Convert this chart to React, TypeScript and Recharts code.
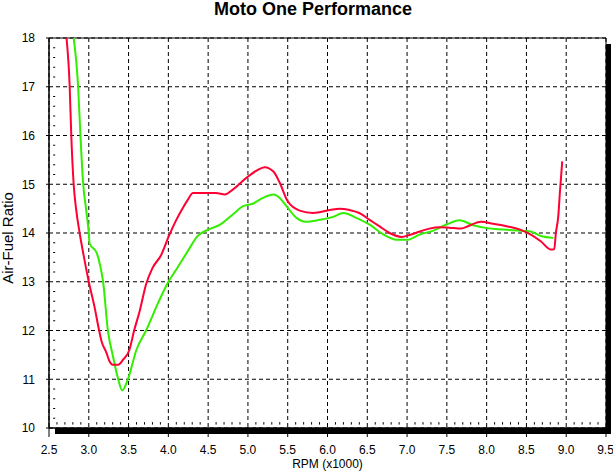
import React from "react";
import { LineChart, Line, XAxis, YAxis, CartesianGrid, ReferenceArea, ReferenceLine } from "recharts";

const xTicks = [2.5, 3.0, 3.5, 4.0, 4.5, 5.0, 5.5, 6.0, 6.5, 7.0, 7.5, 8.0, 8.5, 9.0, 9.5];
const yTicks = [10, 11, 12, 13, 14, 15, 16, 17, 18];

const redRpm = [2.72, 2.76, 2.78, 2.81, 2.84, 2.885, 2.94, 3.0, 3.07, 3.13, 3.16, 3.22, 3.26, 3.30, 3.37, 3.43, 3.51, 3.57, 3.64, 3.72, 3.80, 3.91, 4.01, 4.10, 4.18, 4.24, 4.31, 4.45, 4.60, 4.71, 4.81, 4.98, 5.11, 5.21, 5.32, 5.40, 5.50, 5.65, 5.82, 6.03, 6.15, 6.28, 6.40, 6.53, 6.65, 6.78, 6.93, 7.03, 7.16, 7.28, 7.41, 7.53, 7.68, 7.78, 7.93, 8.08, 8.25, 8.42, 8.55, 8.68, 8.81, 8.85, 8.87, 8.90, 8.92, 8.95];
const redAfr = [18.0, 17.0, 16.0, 15.0, 14.5, 14.0, 13.5, 13.0, 12.5, 12.0, 11.78, 11.55, 11.37, 11.30, 11.30, 11.40, 11.6, 12.0, 12.4, 12.95, 13.28, 13.55, 13.95, 14.27, 14.51, 14.67, 14.82, 14.82, 14.82, 14.79, 14.89, 15.13, 15.28, 15.35, 15.26, 15.03, 14.65, 14.46, 14.41, 14.47, 14.50, 14.47, 14.41, 14.27, 14.14, 14.0, 13.92, 13.96, 14.03, 14.09, 14.12, 14.11, 14.09, 14.15, 14.23, 14.19, 14.14, 14.07, 13.97, 13.83, 13.66, 13.67, 14.0, 14.34, 14.82, 15.47];

const greenRpm = [2.81, 2.866, 2.895, 2.93, 2.965, 3.0, 3.01, 3.10, 3.14, 3.18, 3.24, 3.30, 3.37, 3.42, 3.49, 3.60, 3.72, 3.87, 4.0, 4.10, 4.23, 4.37, 4.50, 4.65, 4.81, 4.94, 5.06, 5.19, 5.32, 5.40, 5.48, 5.61, 5.73, 5.90, 6.07, 6.20, 6.36, 6.53, 6.70, 6.87, 7.0, 7.16, 7.33, 7.49, 7.66, 7.83, 8.0, 8.21, 8.38, 8.55, 8.68, 8.84];
const greenAfr = [18.0, 17.0, 16.0, 15.0, 14.5, 14.0, 13.79, 13.59, 13.35, 13.0, 12.0, 11.5, 11.0, 10.77, 10.99, 11.61, 12.0, 12.56, 13.0, 13.25, 13.59, 13.94, 14.07, 14.17, 14.38, 14.55, 14.60, 14.72, 14.79, 14.72, 14.56, 14.31, 14.23, 14.27, 14.33, 14.41, 14.31, 14.17, 13.97, 13.86, 13.86, 13.97, 14.05, 14.17, 14.26, 14.16, 14.10, 14.07, 14.05, 14.03, 13.94, 13.90];

const redData = redRpm.map((x, i) => ({ x, afr: redAfr[i] }));
const greenData = greenRpm.map((x, i) => ({ x, afr: greenAfr[i] }));

const minorX: number[] = [];
for (let i = 26; i < 95; i++) if (i % 5 !== 0) minorX.push(i / 10);
const minorY: number[] = [];
for (let i = 51; i < 90; i++) if (i % 5 !== 0) minorY.push(i / 5);

const font = "'Liberation Sans', Arial, sans-serif";

export default function App() {
  return (
    <div style={{ position: "absolute", left: 0, top: 0, width: 613, height: 473, background: "#fff", fontFamily: font }}>
      <div style={{ position: "absolute", left: 0, top: 0, width: 626, textAlign: "center", fontWeight: "bold", fontSize: 18, lineHeight: "18px", color: "#000" }}>
        Moto One Performance
      </div>
      <div style={{ position: "absolute", left: 49, top: 458, width: 557, textAlign: "center", fontSize: 12, lineHeight: "13px", color: "#000" }}>
        RPM (x1000)
      </div>
      <div style={{ position: "absolute", left: 7, top: 238, width: 0, height: 0 }}>
        <div style={{ position: "absolute", transform: "translate(-50%,-50%) rotate(-90deg)", whiteSpace: "nowrap", fontSize: 15, color: "#000" }}>
          Air-Fuel Ratio
        </div>
      </div>
      <LineChart width={613} height={473} margin={{ top: 38, right: 7, left: 0, bottom: 0 }} style={{ position: "absolute", left: 0, top: 0 }}>
        <CartesianGrid stroke="#000" strokeDasharray="4 3" horizontalValues={yTicks} verticalValues={xTicks} />
        <XAxis
          dataKey="x"
          type="number"
          domain={[2.5, 9.5]}
          ticks={xTicks}
          tickFormatter={(v: number) => v.toFixed(1)}
          allowDataOverflow
          height={45}
          tickSize={9}
          tickMargin={8}
          stroke="#000"
          tick={{ fill: "#000", fontSize: 12, fontFamily: font }}
        />
        <YAxis
          dataKey="afr"
          type="number"
          domain={[10, 18]}
          ticks={yTicks}
          allowDataOverflow
          width={49}
          tickSize={3}
          tickMargin={11}
          stroke="#000"
          tick={{ fill: "#000", fontSize: 12, fontFamily: font }}
        />
        {minorX.map((v) => (
          <ReferenceLine key={"mx" + v} segment={[{ x: v, y: 10.07 }, { x: v, y: 10.12 }]} stroke="#000" strokeWidth={1} />
        ))}
        {minorY.map((v) => (
          <ReferenceLine key={"my" + v} segment={[{ x: 2.552, y: v }, { x: 2.578, y: v }]} stroke="#000" strokeWidth={1} />
        ))}
        <ReferenceArea x1={2.5} x2={9.5} y1={10} y2={18} fill="none" stroke="#000" strokeWidth={1} fillOpacity={0} />
        <Line data={greenData} dataKey="afr" type="monotone" stroke="#33ee00" strokeWidth={2} dot={false} isAnimationActive={false} />
        <Line data={redData} dataKey="afr" type="monotone" stroke="#ff0033" strokeWidth={2} dot={false} isAnimationActive={false} />
      </LineChart>
      <div style={{ position: "absolute", left: 55, top: 428, width: 556, height: 6, background: "#000" }} />
      <div style={{ position: "absolute", left: 606, top: 44, width: 5, height: 390, background: "#000" }} />
    </div>
  );
}
